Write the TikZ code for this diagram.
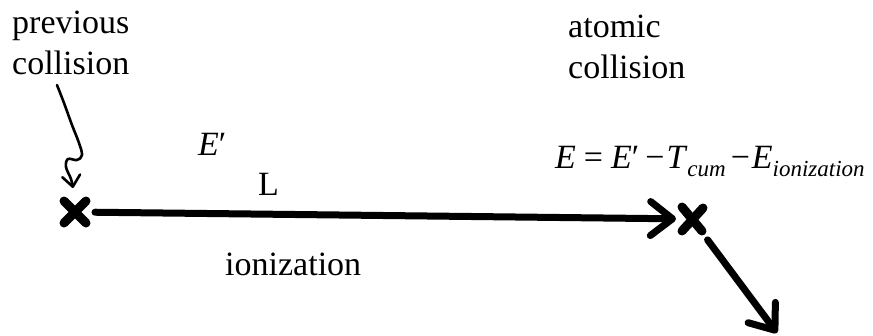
\documentclass[tikz,border=0pt]{standalone}
\usepackage{fontspec}
\setmainfont{Liberation Serif}
\usetikzlibrary{arrows.meta,calc}
\newcommand{\subtxt}[1]{\raisebox{-0.25em}{\fontsize{23}{23}\selectfont\itshape #1}}
\begin{document}
\begin{tikzpicture}[x=1pt,y=-1pt,
  lbl/.style={inner sep=0pt,anchor=base west,font=\fontsize{34}{41}\selectfont},
  twolines/.style={lbl,align=left},
  xmark/.style={line width=9pt,line cap=round},
  track/.style={line width=7pt,line cap=round,-{Straight Barb[length=22pt,width=34pt,round]}},
  pointer/.style={line width=2.6pt,line cap=round,line join=round,-{Straight Barb[length=11pt,width=18pt,round]}}]
\useasboundingbox (0,0) rectangle (873,335);
% collision points
\coordinate (p0) at (75,212);
\coordinate (p1) at (692,219);
\coordinate (p2) at (777,333);
\coordinate (c0) at (57,85);
\draw[xmark] ($(p0)+(-11,-11)$) -- ($(p0)+(11,11)$) ($(p0)+(-11,11)$) -- ($(p0)+(11,-11)$);
\draw[xmark] ($(p1)+(-10,-12)$) -- ($(p1)+(10,12)$) ($(p1)+(-10,12)$) -- ($(p1)+(11,-11)$);
% tracks
\draw[track,shorten <=20pt,shorten >=16pt] (p0) -- (p1);
\draw[track,shorten <=26pt] (p1) -- (p2);
% pointer
\draw[pointer] plot[smooth,tension=0.6] coordinates {(c0) (64,103) (72,125) (79,143) (82,155) (77,160) (68,159) (66,167) (71,179) (73,188)};
% labels
\node[twolines] (prev) at (12,74) {previous\\collision};
\node[twolines] (atom) at (568,78) {atomic\\collision};
\node[lbl] (Ep) at (198,155) {\textit{E}′};
\node[lbl] (L) at (258,195) {L};
\node[lbl] (ion) at (225,275) {ionization};
\node[lbl] (eq) at (555,168) {\textit{E}\hspace{8pt}=\hspace{8pt}\textit{E}′\hspace{6pt}−\hspace{2pt}\textit{T}\subtxt{cum}\hspace{5pt}−\hspace{2pt}\textit{E}\subtxt{ionization}};
\end{tikzpicture}
\end{document}
